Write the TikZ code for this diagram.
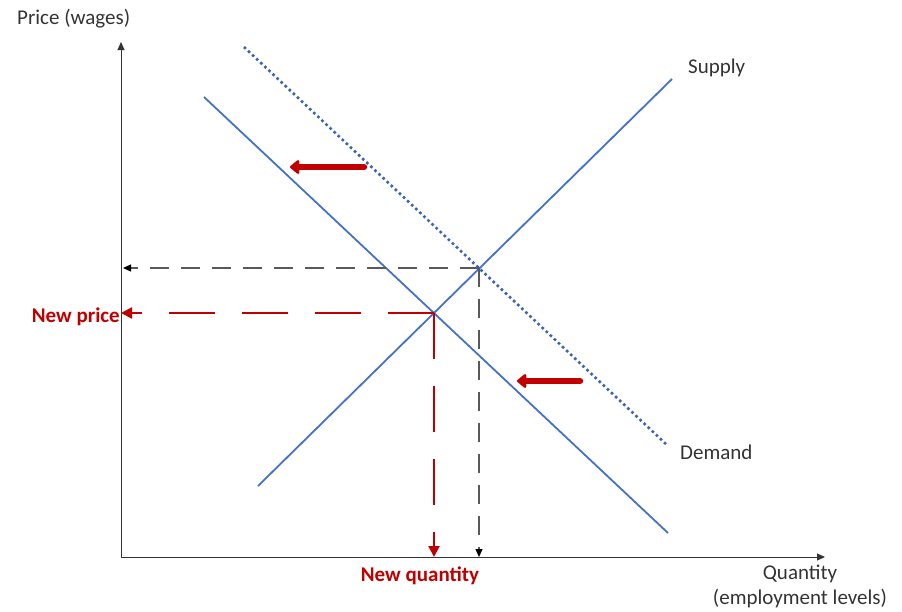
\documentclass[tikz,border=0pt]{standalone}
\usepackage{fontspec}
\setmainfont{Carlito}
\usetikzlibrary{arrows.meta}
\definecolor{lineblue}{RGB}{68,114,196}
\definecolor{dotblue}{RGB}{60,100,180}
\definecolor{shiftred}{RGB}{192,0,0}
\definecolor{guidegray}{RGB}{89,89,89}
\begin{document}
\begin{tikzpicture}[x=1pt,y=-1pt,
  axis/.style={draw=black!80,line width=1pt,-{Triangle[length=8pt,width=7pt]}},
  curve/.style={draw=lineblue,line width=1.8pt},
  dotcurve/.style={draw=dotblue,line width=2.6pt,dash pattern=on 2.6pt off 3pt},
  guideblack/.style={draw=guidegray,line width=1.2pt,dash pattern=on 19pt off 12pt,-{Triangle[length=8pt,width=7pt,color=black]}},
  guidered/.style={draw=shiftred,line width=2.2pt,dash pattern=on 46pt off 27pt,-{Triangle[length=11pt,width=11pt]}},
  shiftarrow/.style={draw=shiftred,line width=6.5pt,line cap=round,-{Triangle[length=10pt,width=16pt,round]}},
  lbl/.style={font=\fontsize{21}{25}\selectfont,text=black!80,inner sep=0pt},
  redlbl/.style={font=\fontsize{21}{25}\selectfont\bfseries,text=shiftred,inner sep=0pt}]
\useasboundingbox (0,0) rectangle (902,611);
% axes
\coordinate (O) at (121,557);
\coordinate (ytip) at (121,42);
\coordinate (xtip) at (825,557);
\draw[axis] (O) -- (ytip);
\draw[axis] (O) -- (xtip);
% curves
\coordinate (s1) at (258,486);
\coordinate (s2) at (672,79);
\coordinate (d1) at (204,97);
\coordinate (d2) at (668,533);
\coordinate (e1) at (244,47);
\coordinate (e2) at (667,445);
\draw[curve] (s1) -- (s2);
\draw[curve] (d1) -- (d2);
\draw[dotcurve] (e1) -- (e2);
% equilibria
\coordinate (eqOld) at (479,268);
\coordinate (eqNew) at (434,313);
\coordinate (pOld) at (123,268);
\coordinate (qOld) at (479,557);
\coordinate (pNew) at (121,313);
\coordinate (qNew) at (434,557);
\draw[guideblack] (eqOld) -- (pOld);
\draw[guideblack] (eqOld) -- (qOld);
\draw[guidered] (eqNew) -- (pNew);
\draw[guidered] (eqNew) -- (qNew);
% shift arrows
\coordinate (a1s) at (364,167);
\coordinate (a1e) at (290,167);
\coordinate (a2s) at (580,381);
\coordinate (a2e) at (517,381);
\draw[shiftarrow] (a1s) -- (a1e);
\draw[shiftarrow] (a2s) -- (a2e);
% labels
\node[lbl,anchor=west] (ylab) at (17,19) {Price (wages)};
\node[lbl,anchor=west] (slab) at (688,68) {Supply};
\node[lbl,anchor=west] (dlab) at (680,452) {Demand};
\node[redlbl,anchor=east] (nplab) at (120,317) {New price};
\node[redlbl] (nqlab) at (420,576) {New quantity};
\node[lbl,align=center] (xlab) at (800,586) {Quantity\\(employment levels)};
\end{tikzpicture}
\end{document}
